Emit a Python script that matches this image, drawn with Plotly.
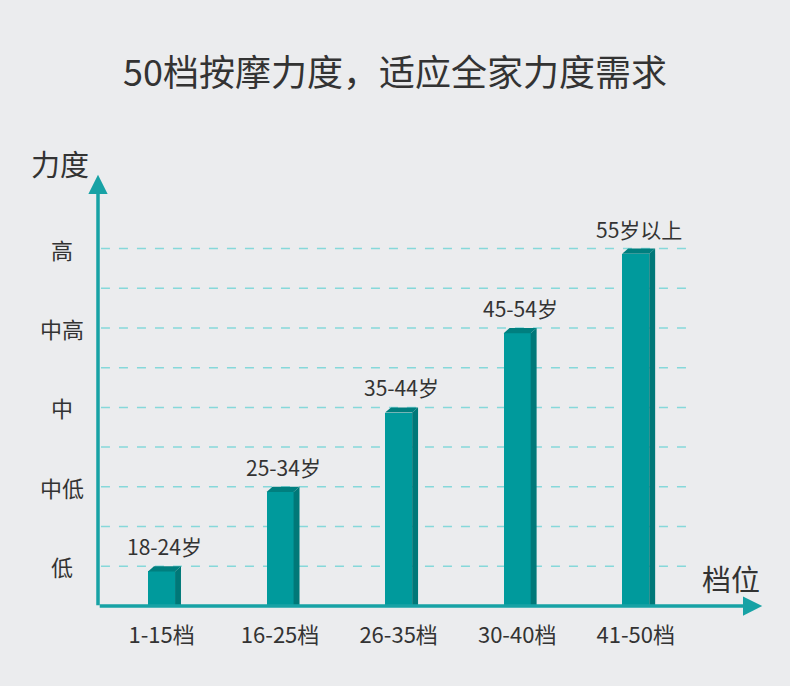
import plotly.graph_objects as go

# data
categories = ['1-15档', '16-25档', '26-35档', '30-40档', '41-50档']
force_level = [1, 3, 5, 7, 9]
age_labels = ['18-24岁', '25-34岁', '35-44岁', '45-54岁', '55岁以上']
ytick_vals = [1, 3, 5, 7, 9]
ytick_text = ['低', '中低', '中', '中高', '高']
grid_vals = [1, 2, 3, 4, 5, 6, 7, 8, 9]

FONT = 'Noto Sans CJK SC'
BG = '#ebecee'
FRONT = '#009a9c'
SIDE = '#007878'
TOP = '#007f7f'
AXIS = '#17a2a5'
GRID = '#86d8da'
TXT = '#333333'

bw = 0.228      # front face width (x units)
dx = 0.05       # depth to the right
dy = 0.13       # depth upward (y units)

x = list(range(len(categories)))
front_h = [v - dy for v in force_level]

fig = go.Figure()
fig.add_trace(go.Bar(x=x, y=front_h, width=bw, marker=dict(color=FRONT, line=dict(width=0)),
                     hoverinfo='skip'))

shapes = []
for g in grid_vals:
    shapes.append(dict(type='line', xref='paper', yref='y', x0=0.005, x1=1, y0=g, y1=g,
                       line=dict(color=GRID, width=1.5, dash='dash'), layer='below'))

for i, h in enumerate(front_h):
    l, r = i - bw / 2, i + bw / 2
    # side face
    shapes.append(dict(type='path', xref='x', yref='y',
                       path=f'M{r},0 L{r + dx},0 L{r + dx},{h + dy} L{r},{h} Z',
                       fillcolor=SIDE, line=dict(width=0)))
    # top face
    shapes.append(dict(type='path', xref='x', yref='y',
                       path=f'M{l},{h} L{l + dx},{h + dy} L{r + dx},{h + dy} L{r},{h} Z',
                       fillcolor=TOP, line=dict(width=0)))

annotations = []
for i, (v, t) in enumerate(zip(force_level, age_labels)):
    annotations.append(dict(x=i + dx / 2, y=v, xref='x', yref='y', text=t, showarrow=False,
                            yanchor='bottom', yshift=3, font=dict(family=FONT, size=21, color=TXT)))
for v, t in zip(ytick_vals, ytick_text):
    annotations.append(dict(x=-0.06, y=v, xref='paper', yref='y', text=t, showarrow=False,
                            xanchor='center', font=dict(family=FONT, size=22, color=TXT)))

# axis arrows
annotations.append(dict(x=0, y=1.015, xref='paper', yref='paper', ax=0, ay=432, axref='pixel',
                        ayref='pixel', text='', showarrow=True, arrowhead=2, arrowsize=1.1,
                        arrowwidth=3.5, arrowcolor=AXIS))
annotations.append(dict(x=1.122, y=0, xref='paper', yref='paper', ax=-664, ay=0, axref='pixel',
                        ayref='pixel', text='', showarrow=True, arrowhead=2, arrowsize=1.1,
                        arrowwidth=3.5, arrowcolor=AXIS))

annotations.append(dict(x=-0.065, y=1.042, xref='paper', yref='paper', text='力度', showarrow=False,
                        xanchor='center', yanchor='middle', font=dict(family=FONT, size=29, color=TXT)))
annotations.append(dict(x=1.07, y=0.066, xref='paper', yref='paper', text='档位', showarrow=False,
                        xanchor='center', yanchor='middle', font=dict(family=FONT, size=29, color=TXT)))

fig.update_layout(
    width=790, height=686,
    paper_bgcolor=BG, plot_bgcolor=BG,
    margin=dict(l=98, r=100, t=181, b=80),
    showlegend=False,
    bargap=0,
    title=dict(text='50档按摩力度，适应全家力度需求', x=0.5, xanchor='center', y=0.893,
               yanchor='middle', font=dict(family=FONT, size=36, color=TXT)),
    xaxis=dict(range=[-0.536, 4.458], tickvals=x, ticktext=categories, showgrid=False,
               zeroline=False, showline=False, ticks='', ticklabelstandoff=14,
               tickfont=dict(family=FONT, size=22, color=TXT)),
    yaxis=dict(range=[0, 10.7], showgrid=False, zeroline=False, showline=False,
               showticklabels=False, ticks=''),
    shapes=shapes,
    annotations=annotations,
)

fig.write_html('out.html', config={'displayModeBar': False},
               post_script="document.body.style.margin='0';")
